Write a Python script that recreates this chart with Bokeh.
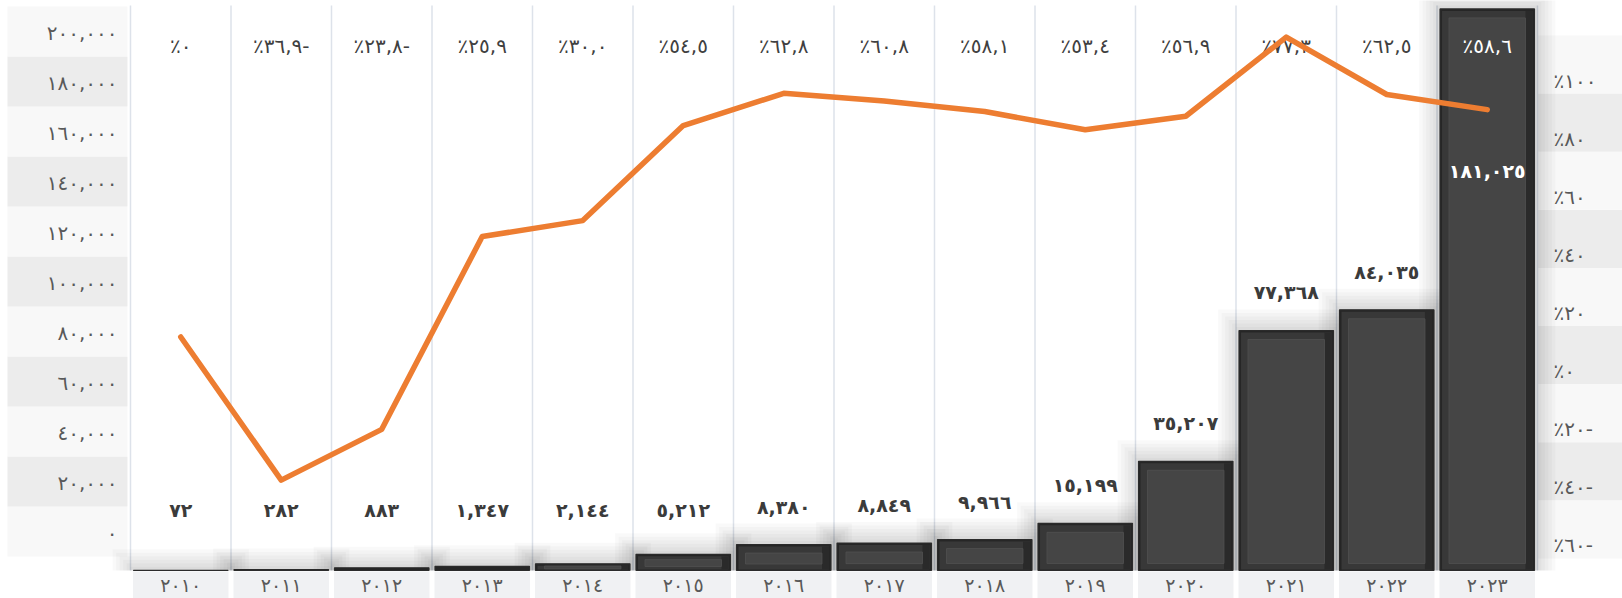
from bokeh.plotting import figure
from bokeh.models import Range1d, ColumnDataSource
from bokeh.core.properties import value
from bokeh.embed import file_html
from bokeh.resources import INLINE

# ---------------- data ----------------
years = [2010, 2011, 2012, 2013, 2014, 2015, 2016, 2017, 2018, 2019, 2020, 2021, 2022, 2023]
bar_values = [72, 282, 883, 1347, 2144, 5212, 8380, 8849, 9966, 15199, 35207, 77368, 84035, 181025]
growth_pct = [0, -36.9, -23.8, 25.9, 30.0, 54.5, 62.8, 60.8, 58.1, 53.4, 56.9, 77.3, 62.5, 58.6]
left_ticks = [0, 20000, 40000, 60000, 80000, 100000, 120000, 140000, 160000, 180000, 200000]
right_ticks = [-60, -40, -20, 0, 20, 40, 60, 80, 100]

# ---------------- helpers ----------------
AR = str.maketrans("0123456789", "٠١٢٣٤٥٦٧٨٩")


def ar(s):
    return s.translate(AR)


def fmt_int(v):
    return ar(f"{v:,}")


def fmt_pct(g):
    if g == 0:
        return "٪" + ar("0")
    s = "٪" + ar(f"{abs(g):.1f}".replace(".", ","))
    return s + ("-" if g < 0 else "")


def fmt_tick_pct(t):
    return "٪" + ar(str(abs(t))) + ("-" if t < 0 else "")


W, H = 1622, 598
X0 = -1.7935
X1 = X0 + W / 100.5
Y0, Y1 = -9026, 183735
kx = W / (X1 - X0)
ky = H / (Y1 - Y0)


def dx(px):
    return px / kx


def dy(px):
    return px / ky


FONT = value("DejaVu Sans")
TXT = "#595959"
DARK = "#3b3b3b"

p = figure(width=W, height=H, x_range=Range1d(X0, X1), y_range=Range1d(Y0, Y1),
           x_axis_location=None, y_axis_location=None, toolbar_location=None,
           output_backend="svg", min_border=0, outline_line_color=None,
           background_fill_color="white", border_fill_color="white")
p.grid.visible = False
p.extra_y_ranges = {
    "pct": Range1d(-67.4, 86.73),
    "lax": Range1d(-26800, 212400),
    "rax": Range1d(-78.31, 127.54),
}

n = len(years)
idx = list(range(n))

# ---------------- left panel (value scale) ----------------
lb = ColumnDataSource(dict(
    l=[-0.5 - dx(123)] * len(left_ticks), r=[-0.5 - dx(3)] * len(left_ticks),
    b=[t - 10000 for t in left_ticks], t=[t + 10000 for t in left_ticks],
    c=["#f8f8f8" if ((200000 - t) // 20000) % 2 == 0 else "#ececec" for t in left_ticks],
    y=left_ticks, x=[-0.5 - dx(13)] * len(left_ticks),
    txt=[fmt_int(t) for t in left_ticks]))
p.quad(left="l", right="r", bottom="b", top="t", fill_color="c", line_color=None,
       source=lb, y_range_name="lax")
p.text(x="x", y="y", text="txt", source=lb, y_range_name="lax", text_align="right",
       text_baseline="middle", text_font=FONT, text_font_size="20px", text_color=TXT,
       y_offset=1)

# ---------------- right panel (percent scale) ----------------
rb = ColumnDataSource(dict(
    l=[13.5] * len(right_ticks), r=[X1] * len(right_ticks),
    b=[t - 4.5 for t in right_ticks], t=[t + 15.5 for t in right_ticks],
    c=["#f8f8f8" if ((100 - t) // 20) % 2 == 0 else "#ececec" for t in right_ticks],
    y=right_ticks, x=[13.5 + dx(16)] * len(right_ticks),
    txt=[fmt_tick_pct(t) for t in right_ticks]))
p.quad(left="l", right="r", bottom="b", top="t", fill_color="c", line_color=None,
       source=rb, y_range_name="rax")
p.text(x="x", y="y", text="txt", source=rb, y_range_name="rax", text_align="left",
       text_baseline="middle", text_font=FONT, text_font_size="20px", text_color=TXT)

# ---------------- category separators ----------------
seps = [i - 0.5 for i in range(n + 1)]
p.segment(x0=seps, x1=seps, y0=[0] * len(seps), y1=[Y1 - dy(5)] * len(seps),
          line_color="#dde2ea", line_width=1.5)

# ---------------- category boxes & labels ----------------
p.quad(left=[i - 0.5 + dx(2.5) for i in idx], right=[i + 0.5 - dx(2.5) for i in idx],
       bottom=[Y0] * n, top=[-dy(1)] * n, fill_color="#f0f1f3", line_color=None)
p.text(x=idx, y=[-dy(15)] * n, text=[ar(str(y)) for y in years], text_align="center",
       text_baseline="middle", text_font=FONT, text_font_size="19px", text_color=TXT)

# ---------------- bars with glow + bevel ----------------
half = 0.47
for k in range(1, 7):
    e = 3.5 * k
    p.quad(left=[i - half - dx(e) for i in idx], right=[i + half + dx(e) for i in idx],
           bottom=[0] * n, top=[v + dy(e) for v in bar_values],
           fill_color="black", fill_alpha=0.022, line_color=None)

p.quad(left=[i - half for i in idx], right=[i + half for i in idx], bottom=[0] * n,
       top=bar_values, fill_color="#262626", line_color="#2b2b2b", line_width=1.2)

ml, mr, mb, mt = [], [], [], []
fl, fr, fb, ft = [], [], [], []
rl, rr, rbm, rt = [], [], [], []
for i, v in zip(idx, bar_values):
    hpx = v * ky
    if hpx < 6:
        continue
    a = 2
    ml.append(i - half + dx(a)); mr.append(i + half - dx(a))
    mb.append(dy(1)); mt.append(v - dy(a))
    ins_y = min(9, hpx * 0.33)
    ins_b = min(7, hpx * 0.25)
    fl.append(i - half + dx(9)); fr.append(i + half - dx(9))
    fb.append(dy(ins_b)); ft.append(v - dy(ins_y))
    rl.append(i + half - dx(9)); rr.append(i + half - dx(a))
    rbm.append(dy(1)); rt.append(v - dy(a))
p.quad(left=ml, right=mr, bottom=mb, top=mt, fill_color="#383838", line_color=None)
p.quad(left=rl, right=rr, bottom=rbm, top=rt, fill_color="#2a2a2a", line_color=None)
p.quad(left=fl, right=fr, bottom=fb, top=ft, fill_color="#454545", line_color="#505050",
       line_width=0.8)

# ---------------- value labels ----------------
lab_y, lab_c = [], []
for v in bar_values:
    top_px = v * ky
    if top_px + 38 > (Y1 * ky) - 40:
        lab_y.append(v - dy(162)); lab_c.append("white")
    else:
        lab_y.append(dy(max(top_px + 38, 60))); lab_c.append(DARK)
p.text(x=idx, y=lab_y, text=[fmt_int(v) for v in bar_values], text_color=lab_c,
       text_align="center", text_baseline="middle", text_font=FONT,
       text_font_size="19px", text_font_style="bold")

# ---------------- percent labels (top row) ----------------
pct_c = ["white" if v * ky > (Y1 * ky) - 60 else "#404040" for v in bar_values]
p.text(x=idx, y=[Y1 - dy(45)] * n, text=[fmt_pct(g) for g in growth_pct], text_color=pct_c,
       text_align="center", text_baseline="middle", text_font=FONT,
       text_font_size="20px")

# ---------------- growth line ----------------
p.line(x=idx, y=growth_pct, y_range_name="pct", line_color="#ED7D31", line_width=5.5,
       line_join="round", line_cap="round")

with open("out.html", "w", encoding="utf-8") as f:
    f.write(file_html(p, INLINE))
